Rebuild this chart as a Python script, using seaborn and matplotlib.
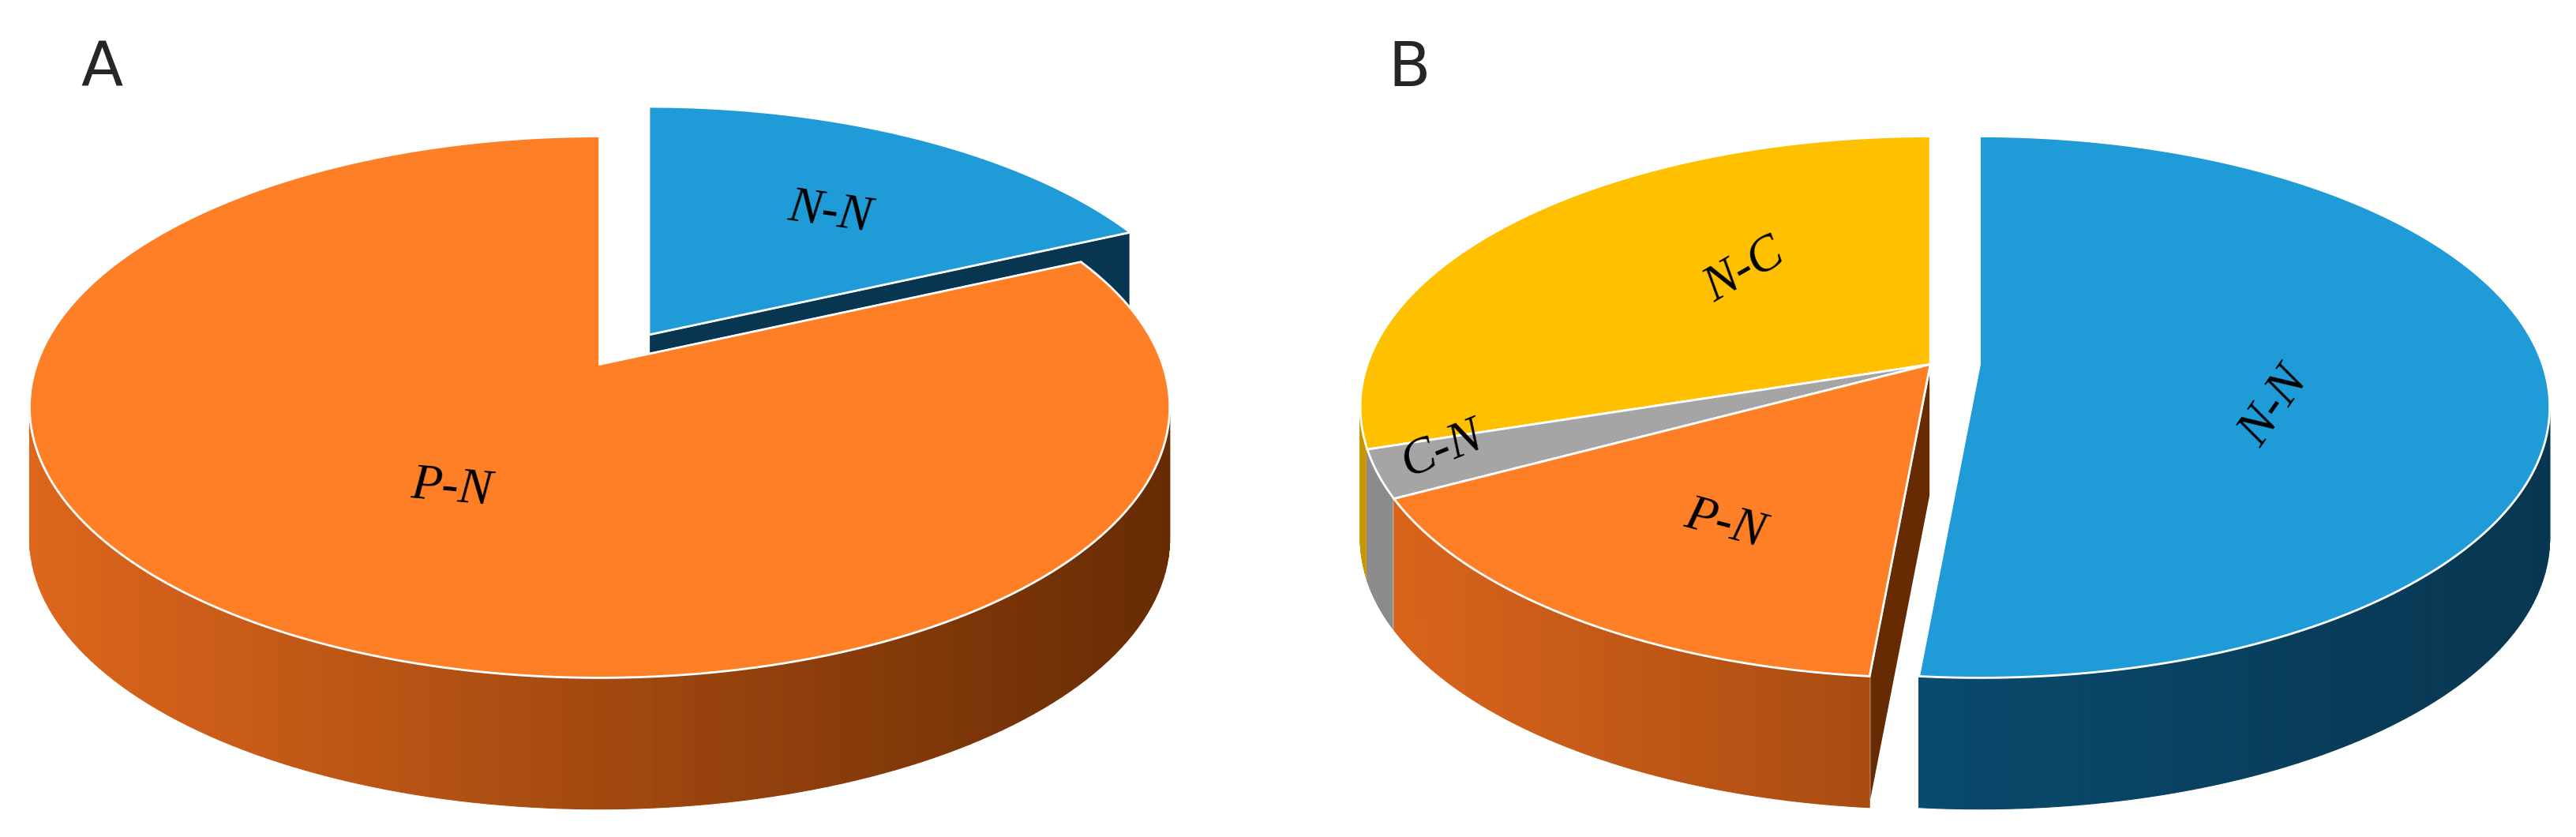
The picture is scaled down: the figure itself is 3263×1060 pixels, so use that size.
import numpy as np
import seaborn as sns
import matplotlib.pyplot as plt
from matplotlib.patches import Polygon
from matplotlib.colors import to_rgb

sns.set_style("white")

# panel A
labels_a = ["N-N", "P-N"]
values_a = [16, 84]
# panel B
labels_b = ["N-N", "P-N", "C-N", "N-C"]
values_b = [51.7, 17.8, 3.0, 27.5]

top_colors = {"N-N": "#1F9BD7", "P-N": "#FF7F27", "C-N": "#A5A5A5", "N-C": "#FFC000"}
side_light = {"N-N": "#0A5A85", "P-N": "#DD661C", "C-N": "#8C8C8C", "N-C": "#C89600"}
side_dark = {"N-N": "#083650", "P-N": "#672B04", "C-N": "#6E6E6E", "N-C": "#8C6900"}

RX, RY, DEPTH = 347, 165, 80
APEX_DY = -26  # apex sits a bit above the ellipse centre (perspective)


def lerp(c1, c2, f):
    a, b = np.array(to_rgb(c1)), np.array(to_rgb(c2))
    return tuple(a + (b - a) * f)


def draw_pie(ax, cx, cy, labels, values, explode, label_pos):
    total = sum(values)
    start = 90.0
    slices = []
    for lab, v in zip(labels, values):
        span = 360.0 * v / total
        t0, t1 = start - span, start
        mid = np.radians((t0 + t1) / 2)
        ox, oy = explode.get(lab, (0, 0))
        slices.append((lab, t0, t1, ox, oy, np.sin(mid)))
        start = t0
    slices.sort(key=lambda s: -s[5])
    for lab, t0, t1, ox, oy, _ in slices:
        ex, ey = cx + ox, cy + oy
        px, py = ex, ey + APEX_DY
        ts = np.radians(np.linspace(t0, t1, 200))
        xs = ex + RX * np.cos(ts)
        ys = ey - RY * np.sin(ts)
        for t in (t0, t1):
            tr = np.radians(t)
            rx, ry = ex + RX * np.cos(tr), ey - RY * np.sin(tr)
            face = [(px, py), (rx, ry), (rx, ry + DEPTH), (px, py + DEPTH)]
            ax.add_patch(Polygon(face, closed=True, fc=side_dark[lab], ec="white", lw=1.5))
        for i in range(len(ts) - 1):
            if np.sin(ts[i]) > 0 and np.sin(ts[i + 1]) > 0:
                continue
            f = np.clip((xs[i] - (ex - RX)) / (2 * RX), 0, 1)
            col = lerp(side_light[lab], side_dark[lab], f)
            quad = [(xs[i], ys[i]), (xs[i + 1], ys[i + 1]),
                    (xs[i + 1], ys[i + 1] + DEPTH), (xs[i], ys[i] + DEPTH)]
            ax.add_patch(Polygon(quad, closed=True, fc=col, ec=col, lw=0.8))
        top = [(px, py)] + list(zip(xs, ys))
        ax.add_patch(Polygon(top, closed=True, fc=top_colors[lab], ec="white", lw=2))
    for lab, (x, y, rot) in label_pos.items():
        ax.text(x, y, lab, fontsize=46, family="Liberation Serif", style="italic",
                rotation=rot, ha="center", va="center", color="black")


fig = plt.figure(figsize=(32.63, 10.6), dpi=100)
ax = fig.add_axes([0, 0, 1, 1])
ax.set_xlim(0, 1568)
ax.set_ylim(510, 0)
ax.axis("off")

draw_pie(ax, 365, 248, labels_a, values_a, {"N-N": (30, -18)},
         {"N-N": (505, 130, -8), "P-N": (275, 298, -5)})
draw_pie(ax, 1175, 248, labels_b, values_b, {"N-N": (30, 0)},
         {"N-C": (1062, 165, 30), "C-N": (878, 274, 22),
          "P-N": (1050, 320, -15), "N-N": (1385, 248, 55)})

ax.text(62, 42, "A", fontsize=56, family="DejaVu Sans", ha="center", va="center")
ax.text(858, 42, "B", fontsize=56, family="DejaVu Sans", ha="center", va="center")

fig.savefig("out.png", dpi=100)
